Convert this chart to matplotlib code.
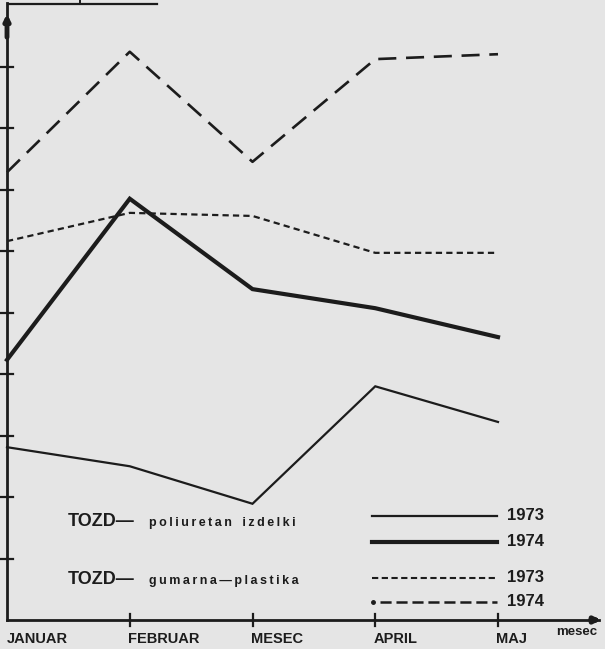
import matplotlib
matplotlib.use("Agg")
import matplotlib.pyplot as plt

plt.rcParams['lines.scale_dashes'] = False

months = ["JANUAR", "FEBRUAR", "MESEC", "APRIL", "MAJ"]
pol_1973 = [2.81, 2.50, 1.89, 3.80, 3.22]
pol_1974 = [4.23, 6.85, 5.38, 5.07, 4.60]
gum_1973 = [6.16, 6.62, 6.57, 5.97, 5.97]
gum_1974 = [7.28, 9.24, 7.45, 9.12, 9.20]
y_ticks = [1, 2, 3, 4, 5, 6, 7, 8, 9]

W, H = 605, 649
FAM = ['Liberation Sans', 'DejaVu Sans']
TS = '\u2009'

def spaced(s):
    return TS.join(list(s))

BG = '#e5e5e5'
INK = '#1c1c1c'

fig = plt.figure(figsize=(W / 100, H / 100), dpi=100, facecolor=BG)
ax = fig.add_axes([0, 0, 1, 1])
ax.set_facecolor(BG)
for s in ax.spines.values():
    s.set_visible(False)
ax.set_xticks([])
ax.set_yticks([])

x0, dx = 7.0, 122.75
y0, dy = 620.0, 61.5
ax.set_xlim(-x0 / dx, (W - x0) / dx)
ax.set_ylim(-(H - y0) / dy, y0 / dy)

xs = list(range(len(months)))

ax.plot(xs, gum_1974, color=INK, lw=1.9, dashes=(13, 7), solid_capstyle='butt')
ax.plot(xs, gum_1973, color=INK, lw=1.6, dashes=(4.5, 3))
ax.plot(xs, pol_1974, color=INK, lw=3.0, solid_joinstyle='miter')
ax.plot(xs, pol_1973, color=INK, lw=1.6, solid_joinstyle='miter')

xmax = (W - x0) / dx
ymax = y0 / dy
ax.plot([0, 0], [0, ymax - 0.05], color=INK, lw=2.0)
ax.plot([0, xmax - 0.05], [0, 0], color=INK, lw=2.0)
ax.annotate('', xy=(0, ymax - 0.18), xytext=(0, ymax - 0.65),
            arrowprops=dict(arrowstyle='-|>', color=INK, lw=3.5, mutation_scale=8))
ax.annotate('', xy=(xmax - 0.01, 0), xytext=(xmax - 0.14, 0),
            arrowprops=dict(arrowstyle='-|>', color=INK, lw=3.5, mutation_scale=8))

for t in y_ticks:
    ax.plot([-0.045, 0.045], [t, t], color=INK, lw=1.6)
for i in xs[1:]:
    ax.plot([i, i], [-0.09, 0.09], color=INK, lw=1.6)

for i, m in enumerate(months):
    ax.text(i - (0.015 if i else 0.0), -0.31, m, ha='left', va='center',
            fontsize=10.5, fontweight='bold', family=FAM, color=INK)

def P(px, py):
    return px / W, 1 - py / H

tr = ax.transAxes
ax.text(*P(556, 632), 'mesec', transform=tr, ha='left', va='center',
        fontsize=9.5, fontweight='bold', family=FAM, color=INK)

ax.text(*P(68, 522), 'TOZD\u2014', transform=tr, ha='left', va='center',
        fontsize=13, fontweight='bold', color=INK, family=FAM)
ax.text(*P(149, 523), spaced('poliuretan') + '   ' + spaced('izdelki'), transform=tr,
        ha='left', va='center', fontsize=9, fontweight='bold', family=FAM, color=INK)
ax.text(*P(68, 580), 'TOZD\u2014', transform=tr, ha='left', va='center',
        fontsize=13, fontweight='bold', color=INK, family=FAM)
ax.text(*P(149, 581), spaced('gumarna') + TS + '\u2014' + TS + spaced('plastika'), transform=tr,
        ha='left', va='center', fontsize=9, fontweight='bold', family=FAM, color=INK)

lx0, lx1 = 372, 497
leg = [
    (516, dict(lw=1.6), '1973', lx0),
    (542, dict(lw=3.0), '1974', lx0),
    (578, dict(lw=1.5, dashes=(4.5, 2.5)), '1973', lx0),
    (602, dict(lw=1.8, dashes=(8, 3.5)), '1974', lx0 + 8),
]
for yy, kw, lab, xs0 in leg:
    xa, ya = P(xs0, yy)
    xb, _ = P(lx1, yy)
    ax.plot([xa, xb], [ya, ya], color=INK, transform=tr, **kw)
    ax.text(*P(507, yy), lab, transform=tr, ha='left', va='center',
            fontsize=12, fontweight='bold', color=INK, family=FAM)
ax.plot(*P(373, 602), marker='o', ms=2.5, color=INK, transform=tr)

ax.plot([8 / W, 157 / W], [1 - 4 / H, 1 - 4 / H], color=INK, lw=1.6, transform=tr)
ax.plot([80 / W, 80 / W], [1 - 4 / H, 1.0], color=INK, lw=1.4, transform=tr)

fig.savefig('out.png', dpi=100, facecolor=BG)
